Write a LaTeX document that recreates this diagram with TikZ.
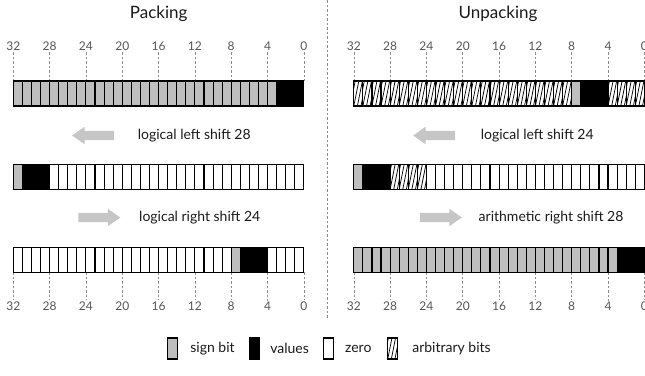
\documentclass[tikz,border=0pt]{standalone}
\usepackage{fontspec}
\setmainfont{Lato}
\usetikzlibrary{positioning,shapes.arrows}
\definecolor{signgray}{HTML}{BEBEBE}
\definecolor{shiftgray}{HTML}{C6C6C6}
\definecolor{tickgray}{HTML}{8C8C8C}
\definecolor{lblgray}{HTML}{555555}
\definecolor{inkgray}{HTML}{1A1A1A}
\newcommand\bw{9.08}
\newcommand\bh{25}
% cells #3..#4 of a 32 bit row, left edge #1, top #2, style #5
\newcommand\bitcells[5]{%
  \foreach \i in {#3,...,#4}{\draw[#5] ({#1+\i*\bw},#2) rectangle ++(\bw,\bh);}}

\begin{document}
\begin{tikzpicture}[x=1pt, y=-1pt,
  cellbase/.style={draw=black, line width=1.1pt},
  signcell/.style={cellbase, fill=signgray},
  valcell/.style={cellbase, fill=black},
  zerocell/.style={cellbase, fill=white},
  arbcell/.style={cellbase, fill=white, path picture={
      \foreach \k in {-3,...,3}
        \draw[line width=0.75pt] ([xshift=\k*3.6pt]path picture bounding box.south west) -- ++(5pt,25pt);}},
  title/.style={font=\fontsize{17}{20}\selectfont, text=inkgray},
  ticklbl/.style={font=\fontsize{12}{14}\selectfont, text=lblgray, inner sep=1pt},
  tick/.style={draw=tickgray, dashed, dash pattern=on 2.5pt off 2pt, line width=0.6pt},
  shiftlbl/.style={font=\fontsize{14}{16}\selectfont, text=inkgray},
  shiftarrow/.style={single arrow, fill=shiftgray, draw=none, inner sep=4.5pt,
                     minimum height=42pt, single arrow head extend=4pt, single arrow tip angle=70},
  legbox/.style={minimum width=9.5pt, minimum height=21pt, inner sep=0pt},
]
\useasboundingbox (0,0) rectangle (645,375);

\node[title] (packing) at (158.7,14) {Packing};
\node[title] (unpacking) at (498,14) {Unpacking};

% divider
\coordinate (divtop) at (327.3,0);
\coordinate (divbot) at (327.3,318);
\draw[tick] (divtop) -- (divbot);

% bit scales
\foreach \x/\p in {13.3/p, 353.8/u}{
  \foreach \n [count=\j] in {32,28,...,0}{
    \node[ticklbl] (\p top\j) at ({\x+(32-\n)*\bw},46.5) {\n};
    \draw[tick] (\p top\j.south) -- ({\x+(32-\n)*\bw},81);
    \node[ticklbl] (\p bot\j) at ({\x+(32-\n)*\bw},306) {\n};
    \draw[tick] ({\x+(32-\n)*\bw},272) -- (\p bot\j.north);
  }
}

% packing
\bitcells{13.3}{81}{0}{28}{signcell}
\bitcells{13.3}{81}{29}{31}{valcell}
\bitcells{13.3}{164.3}{0}{0}{signcell}
\bitcells{13.3}{164.3}{1}{3}{valcell}
\bitcells{13.3}{164.3}{4}{31}{zerocell}
\bitcells{13.3}{247.3}{0}{23}{zerocell}
\bitcells{13.3}{247.3}{24}{24}{signcell}
\bitcells{13.3}{247.3}{25}{27}{valcell}
\bitcells{13.3}{247.3}{28}{31}{zerocell}

% unpacking
\bitcells{353.8}{81}{0}{23}{arbcell}
\bitcells{353.8}{81}{24}{24}{signcell}
\bitcells{353.8}{81}{25}{27}{valcell}
\bitcells{353.8}{81}{28}{31}{arbcell}
\bitcells{353.8}{164.3}{0}{0}{signcell}
\bitcells{353.8}{164.3}{1}{3}{valcell}
\bitcells{353.8}{164.3}{4}{7}{arbcell}
\bitcells{353.8}{164.3}{8}{31}{zerocell}
\bitcells{353.8}{247.3}{0}{28}{signcell}
\bitcells{353.8}{247.3}{29}{31}{valcell}

% shifts
\node[shiftarrow, shape border rotate=180] (pshl) at (96.5,135.5) {};
\node[shiftlbl, right=20pt of pshl] (pshltxt) {logical left shift 28};
\node[shiftarrow] (pshr) at (96,217.5) {};
\node[shiftlbl, right=15pt of pshr] (pshrtxt) {logical right shift 24};
\node[shiftarrow, shape border rotate=180] (ushl) at (437.5,135.5) {};
\node[shiftlbl, right=22pt of ushl] (ushltxt) {logical left shift 24};
\node[shiftarrow] (ushr) at (437.5,217.5) {};
\node[shiftlbl, right=13pt of ushr] (ushrtxt) {arithmetic right shift 28};

% legend
\node[legbox, signcell] (lsign) at (172.5,348.5) {};
\node[shiftlbl, right=9pt of lsign] (lsigntxt) {sign bit};
\node[legbox, valcell] (lval) at (254.5,348.5) {};
\node[shiftlbl, right=7pt of lval] (lvaltxt) {values};
\node[legbox, zerocell] (lzero) at (328.3,348.5) {};
\node[shiftlbl, right=8pt of lzero] (lzerotxt) {zero};
\node[legbox, arbcell] (larb) at (392.5,348.5) {};
\node[shiftlbl, right=11pt of larb] (larbtxt) {arbitrary bits};
\end{tikzpicture}
\end{document}
